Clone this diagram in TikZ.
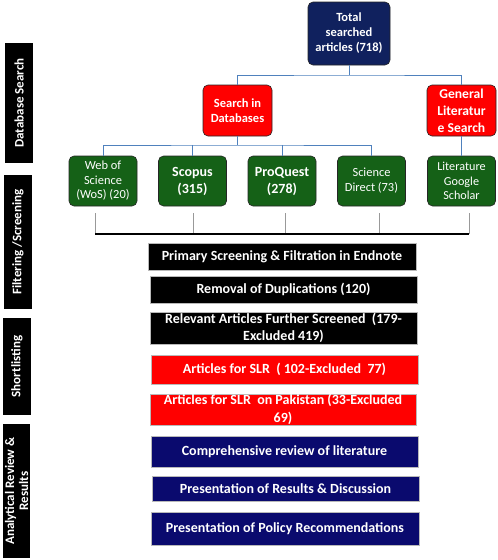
\documentclass[tikz,border=0pt]{standalone}
\usepackage{fontspec}
\setmainfont{Carlito}
\definecolor{navyA}{HTML}{10215E}
\definecolor{navyB}{HTML}{0A0A6E}
\definecolor{grn}{HTML}{156117}
\definecolor{lineblue}{HTML}{4F81BD}
\definecolor{redbox}{HTML}{FF0000}
\tikzset{
  sidelabel/.style={fill=black, text=white, rotate=90, align=center, inner sep=0pt,
    font=\bfseries\fontsize{13}{15}\selectfont},
  rbox/.style={rounded corners=5pt, draw=black!85, line width=0.6pt, text=white, align=center, inner sep=1pt},
  gbox/.style={rbox, fill=grn, minimum width=68pt, minimum height=50pt},
  stepbox/.style={draw=gray!55, line width=0.8pt, text=white, align=center, inner sep=0pt,
    font=\bfseries\fontsize{14}{17}\selectfont},
  blueline/.style={draw=lineblue, line width=1pt},
  grayline/.style={draw=gray!80, line width=0.8pt},
}
\begin{document}
\begin{tikzpicture}[x=1pt,y=-1pt]
\useasboundingbox (0,0) rectangle (498,560);
% side labels
\node[sidelabel, minimum width=120pt, minimum height=28pt] (lab1) at (19,103) {Database Search};
\node[sidelabel, minimum width=134pt, minimum height=28pt] (lab2) at (18,242) {Filtering /Screening};
\node[sidelabel, minimum width=97pt, minimum height=28pt] (lab3) at (17,366.5) {Shortlisting};
\node[sidelabel, minimum width=134pt, minimum height=27pt, font=\bfseries\fontsize{13}{14}\selectfont] (lab4) at (16.5,491) {Analytical Review \&\\Results};
% top node
\node[rbox, fill=navyA, minimum width=82pt, minimum height=63pt, font=\bfseries\fontsize{12.5}{15}\selectfont] (total) at (349,33.5) {Total\\searched\\articles (718)};
% second level
\node[rbox, fill=redbox, minimum width=69pt, minimum height=51pt, font=\bfseries\fontsize{12.5}{14.5}\selectfont] (sdb) at (237.5,110.5) {Search in\\Databases};
\node[rbox, fill=redbox, minimum width=69pt, minimum height=51pt, font=\bfseries\fontsize{13.6}{17}\selectfont] (gls) at (461.5,110.5) {General\\Literatur\\e Search};
% green boxes
\node[gbox, font=\fontsize{12.4}{14.5}\selectfont] (wos) at (103,181) {Web of\\Science\\(WoS) (20)};
\node[gbox, font=\bfseries\fontsize{14}{17}\selectfont] (scopus) at (192.5,181) {Scopus\\(315)};
\node[gbox, font=\bfseries\fontsize{14}{17}\selectfont] (proquest) at (282,181) {ProQuest\\(278)};
\node[gbox, font=\fontsize{12.4}{15}\selectfont] (sd) at (371.5,181) {Science\\Direct (73)};
\node[gbox, font=\fontsize{12.2}{14.5}\selectfont] (gs) at (461.5,181) {Literature\\Google\\Scholar};
% blue connectors
\coordinate (j1) at (349,75);
\coordinate (j2) at (237.5,145);
\draw[blueline] (total.south) -- (j1);
\draw[blueline] (sdb.north) |- (j1) -| (gls.north);
\draw[blueline] (sdb.south) -- (j2);
\draw[blueline] (wos.north) |- (j2) -| (sd.north);
\draw[blueline] (scopus.north) -- (scopus.north |- j2);
\draw[blueline] (proquest.north) -- (proquest.north |- j2);
\draw[blueline] (gls.south) -- (gs.north);
% gray drops and bar
\coordinate (d1) at (95,213);
\coordinate (d2) at (193,213);
\coordinate (d3) at (285,213);
\coordinate (d4) at (379,213);
\coordinate (d5) at (469,213);
\coordinate (barL) at (95,234);
\coordinate (barR) at (469,234);
\foreach \d in {d1,d2,d3,d4,d5}{\draw[grayline] (\d) -- (\d |- barL);}
\draw[line width=2pt] (barL) -- (barR);
% steps
\node[stepbox, fill=black, minimum width=268pt, minimum height=27pt] (s1) at (282,256.5) {Primary Screening \& Filtration in Endnote};
\node[stepbox, fill=black, minimum width=267pt, minimum height=27pt] (s2) at (283.5,289.5) {Removal of Duplications (120)};
\node[stepbox, fill=black, minimum width=267pt, minimum height=32pt, font=\bfseries\fontsize{14}{17}\selectfont] (s3) at (283.5,328) {Relevant Articles Further Screened\ \ (179-\\Excluded 419)};
\node[stepbox, fill=redbox, minimum width=267pt, minimum height=29pt] (s4) at (284.5,369.5) {Articles for SLR\ \ ( 102-Excluded\ \ 77)};
\node[stepbox, fill=redbox, minimum width=266pt, minimum height=31pt, font=\bfseries\fontsize{14}{18}\selectfont] (s5) at (283,409.5) {Articles for SLR\ \ on Pakistan (33-Excluded\\69)};
\node[stepbox, fill=navyB, minimum width=267pt, minimum height=31pt] (s6) at (284.5,451.5) {Comprehensive review of literature};
\node[stepbox, fill=navyB, minimum width=267pt, minimum height=25pt] (s7) at (285.5,488.5) {Presentation of Results \& Discussion};
\node[stepbox, fill=navyB, minimum width=268pt, minimum height=33pt] (s8) at (285,528.5) {Presentation of Policy Recommendations};
\end{tikzpicture}
\end{document}
